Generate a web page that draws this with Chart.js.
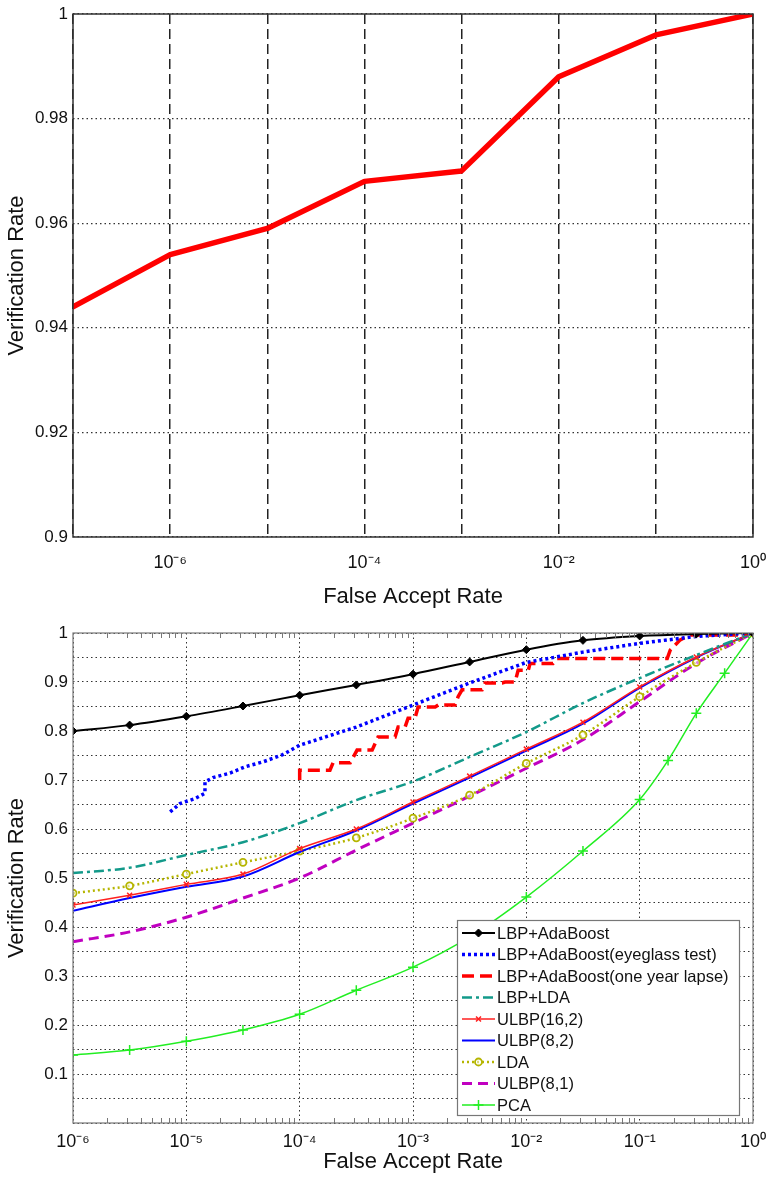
<!DOCTYPE html>
<html>
<head>
<meta charset="utf-8">
<script src="https://cdn.jsdelivr.net/npm/chart.js@4.4.1/dist/chart.umd.min.js"></script>
<style>
html, body { margin: 0; padding: 0; background: #fff; }
#top-wrap { position: absolute; left: 0; top: 0; width: 767px; height: 610px; }
#bottom-wrap { position: absolute; left: 0; top: 610px; width: 767px; height: 567px; }
</style>
</head>
<body>
<div id="top-wrap"><canvas id="roc-top"></canvas></div>
<div id="bottom-wrap"><canvas id="roc-bottom"></canvas></div>
<script>
// ---- top chart data ----
const topFar = [1e-7, 1e-6, 1e-5, 1e-4, 1e-3, 1e-2, 1e-1, 1];
const topVr = [0.944, 0.954, 0.959, 0.968, 0.970, 0.988, 0.996, 1.0];
const topXTicks = [1e-7, 1e-6, 1e-5, 1e-4, 1e-3, 1e-2, 1e-1, 1];
const topXLabels = ['', '10⁻⁶', '', '10⁻⁴', '', '10⁻²', '', '10⁰'];
const topYTicks = [0.9, 0.92, 0.94, 0.96, 0.98, 1];
const topYLabels = ['0.9', '0.92', '0.94', '0.96', '0.98', '1'];

// ---- bottom chart data ----
const far = [1e-6, 3.16e-6, 1e-5, 3.16e-5, 1e-4, 3.16e-4, 1e-3, 3.16e-3, 1e-2, 3.16e-2, 1e-1, 3.16e-1, 1];
const lbpAdaboost = [0.800, 0.812, 0.830, 0.851, 0.873, 0.894, 0.916, 0.941, 0.966, 0.985, 0.994, 0.998, 1.0];
const lbpLda = [0.510, 0.521, 0.547, 0.573, 0.612, 0.659, 0.697, 0.747, 0.798, 0.857, 0.908, 0.955, 1.0];
const ulbp162 = [0.445, 0.465, 0.487, 0.508, 0.560, 0.600, 0.655, 0.708, 0.763, 0.818, 0.890, 0.951, 1.0];
const ulbp82 = [0.433, 0.459, 0.482, 0.503, 0.553, 0.597, 0.652, 0.705, 0.760, 0.815, 0.888, 0.950, 1.0];
const lda = [0.469, 0.484, 0.508, 0.532, 0.555, 0.582, 0.622, 0.669, 0.734, 0.792, 0.870, 0.940, 1.0];
const ulbp81 = [0.370, 0.390, 0.420, 0.459, 0.500, 0.557, 0.612, 0.667, 0.724, 0.782, 0.860, 0.938, 1.0];

const eyeFar = [7.2e-6, 8.8e-6, 1.19e-5, 1.46e-5, 1.46e-5, 1.72e-5, 2.43e-5, 3.3e-5, 4.75e-5, 7.0e-5, 1e-4, 3.16e-4, 1e-3, 3.16e-3, 1e-2, 3.16e-2, 1e-1, 3.16e-1, 1];
const eyeglass = [0.635, 0.652, 0.662, 0.673, 0.696, 0.705, 0.714, 0.727, 0.737, 0.751, 0.771, 0.808, 0.853, 0.898, 0.940, 0.961, 0.979, 0.993, 1.0];

const lapseFar = [1e-4, 1e-4, 1.85e-4, 1.97e-4, 2.79e-4, 3.21e-4, 4.36e-4, 4.92e-4, 6.95e-4, 7.39e-4, 8.51e-4, 9.05e-4, 1.04e-3, 1.11e-3, 1.57e-3, 1.67e-3, 2.35e-3, 2.5e-3, 2.71e-3, 4.07e-3, 4.33e-3, 6.11e-3, 6.5e-3, 7.96e-3, 8.47e-3, 1.04e-2, 1.08e-2, 1.72e-2, 1.87e-2, 0.175, 0.186, 0.228, 0.279, 0.725, 1];
const yearLapse = [0.700, 0.720, 0.720, 0.735, 0.735, 0.761, 0.761, 0.788, 0.788, 0.808, 0.808, 0.826, 0.826, 0.849, 0.849, 0.853, 0.853, 0.870, 0.884, 0.884, 0.898, 0.898, 0.900, 0.900, 0.924, 0.924, 0.938, 0.938, 0.948, 0.948, 0.965, 0.986, 0.996, 0.996, 1.0];

const pcaFar = [1e-6, 3.16e-6, 1e-5, 3.16e-5, 1e-4, 3.16e-4, 1e-3, 3.16e-3, 1e-2, 3.16e-2, 1e-1, 0.178, 3.16e-1, 0.562, 1];
const pca = [0.139, 0.149, 0.167, 0.190, 0.222, 0.271, 0.318, 0.380, 0.461, 0.555, 0.660, 0.740, 0.836, 0.918, 1.0];

const botXTicks = [1e-6, 1e-5, 1e-4, 1e-3, 1e-2, 1e-1, 1];
const botXLabels = ['10⁻⁶', '10⁻⁵', '10⁻⁴', '10⁻³', '10⁻²', '10⁻¹', '10⁰'];
const botYTicks = [0, 0.05, 0.1, 0.15, 0.2, 0.25, 0.3, 0.35, 0.4, 0.45, 0.5, 0.55, 0.6, 0.65, 0.7, 0.75, 0.8, 0.85, 0.9, 0.95, 1];
const botYLabels = ['', '', '0.1', '', '0.2', '', '0.3', '', '0.4', '', '0.5', '', '0.6', '', '0.7', '', '0.8', '', '0.9', '', '1'];

Chart.defaults.font.family = "'Liberation Sans', Arial, sans-serif";
Chart.defaults.color = '#111';

function pts(xs, ys) {
    return xs.map((x, i) => ({ x: x, y: ys[i] }));
}

// keep the plot box where it is, whatever the label widths
function fixX(h) {
    return s => { s.height = h; s.paddingLeft = 0; s.paddingRight = 0; };
}
function fixY(w) {
    return s => { s.width = w; s.paddingTop = 0; s.paddingBottom = 0; };
}

// box around the plot + log minor ticks
const framePlugin = {
    id: 'frame',
    afterDatasetsDraw(chart, args, opts) {
        const ctx = chart.ctx;
        const a = chart.chartArea;
        ctx.save();
        if (opts.minor) {
            const xs = chart.scales.x;
            ctx.strokeStyle = opts.color;
            ctx.lineWidth = 1;
            ctx.beginPath();
            for (let e = -6; e < 0; e++) {
                for (let k = 2; k < 10; k++) {
                    const px = Math.round(xs.getPixelForValue(k * Math.pow(10, e))) + 0.5;
                    ctx.moveTo(px, a.bottom);
                    ctx.lineTo(px, a.bottom - 5);
                    ctx.moveTo(px, a.top);
                    ctx.lineTo(px, a.top + 5);
                }
            }
            ctx.stroke();
        }
        ctx.strokeStyle = opts.color;
        ctx.lineWidth = opts.width;
        ctx.strokeRect(a.left, a.top, a.right - a.left, a.bottom - a.top);
        ctx.restore();
    }
};

// matlab style legend box inside the plot
const boxLegend = {
    id: 'boxLegend',
    afterDraw(chart, args, opts) {
        if (!opts.show) return;
        const ctx = chart.ctx;
        const a = chart.chartArea;
        const left = a.right - 296, top = a.bottom - 203, w = 282, h = 195;
        ctx.save();
        ctx.fillStyle = '#fff';
        ctx.fillRect(left, top, w, h);
        ctx.strokeStyle = '#777';
        ctx.lineWidth = 1.2;
        ctx.strokeRect(left + 0.5, top + 0.5, w, h);
        ctx.font = "16.5px 'Liberation Sans', Arial, sans-serif";
        ctx.textBaseline = 'middle';
        chart.data.datasets.forEach((ds, i) => {
            const y = top + 13 + i * 21.5;
            ctx.strokeStyle = ds.borderColor;
            ctx.lineWidth = ds.borderWidth;
            ctx.setLineDash(ds.borderDash || []);
            ctx.beginPath();
            ctx.moveTo(left + 5, y);
            ctx.lineTo(left + 38, y);
            ctx.stroke();
            ctx.setLineDash([]);
            if (ds.pointRadius > 0) {
                ctx.fillStyle = ds.pointBackgroundColor || ds.borderColor;
                ctx.strokeStyle = ds.borderColor;
                ctx.lineWidth = ds.pointBorderWidth || 1;
                Chart.helpers.drawPoint(ctx, {
                    pointStyle: ds.pointStyle, radius: ds.pointRadius, rotation: 0,
                    borderWidth: ds.pointBorderWidth || 1
                }, left + 21.5, y);
            }
            ctx.fillStyle = '#111';
            ctx.fillText(ds.label, left + 40, y + 1);
        });
        ctx.restore();
    }
};

// ---- top chart ----
new Chart(document.getElementById('roc-top').getContext('2d'), {
    type: 'line',
    data: {
        datasets: [{
            label: 'Verification',
            data: pts(topFar, topVr),
            borderColor: '#ff0000',
            borderWidth: 5.5,
            pointRadius: 0,
            tension: 0,
            borderCapStyle: 'round',
            borderJoinStyle: 'round'
        }]
    },
    options: {
        responsive: true,
        maintainAspectRatio: false,
        animation: false,
        layout: { padding: { left: 4, top: 14, right: 14, bottom: 0 } },
        plugins: {
            legend: { display: false },
            tooltip: { enabled: false },
            frame: { color: '#333', width: 1.5 }
        },
        scales: {
            x: {
                type: 'logarithmic',
                min: 1e-7,
                max: 1,
                afterBuildTicks: s => { s.ticks = topXTicks.map(v => ({ value: v })); },
                afterFit: fixX(73),
                ticks: {
                    autoSkip: false, maxRotation: 0, padding: 15,
                    font: { size: 18 },
                    callback: (v, i) => topXLabels[i]
                },
                grid: { color: '#222', lineWidth: 1.5, drawTicks: false },
                border: { display: false, dash: [10, 5] },
                title: { display: true, text: 'False Accept Rate', font: { size: 22 }, padding: 0 }
            },
            y: {
                type: 'linear',
                min: 0.9,
                max: 1,
                afterBuildTicks: s => { s.ticks = topYTicks.map(v => ({ value: v })); },
                afterFit: fixY(69),
                ticks: {
                    padding: 5,
                    font: { size: 17 },
                    callback: (v, i) => topYLabels[i]
                },
                grid: { color: '#333', lineWidth: 1.2, drawTicks: false },
                border: { display: false, dash: [1.5, 3] },
                title: { display: true, text: 'Verification Rate', font: { size: 22 }, padding: 0 }
            }
        }
    },
    plugins: [framePlugin]
});

// ---- bottom chart ----
new Chart(document.getElementById('roc-bottom').getContext('2d'), {
    type: 'line',
    data: {
        datasets: [
            {
                label: 'LBP+AdaBoost', data: pts(far, lbpAdaboost),
                borderColor: '#000', borderWidth: 2,
                pointStyle: 'rectRot', pointRadius: 4, pointBackgroundColor: '#000', pointBorderWidth: 1,
                cubicInterpolationMode: 'monotone'
            },
            {
                label: 'LBP+AdaBoost(eyeglass test)', data: pts(eyeFar, eyeglass),
                borderColor: '#0000ff', borderWidth: 3.5, borderDash: [3, 3],
                pointRadius: 0, tension: 0
            },
            {
                label: 'LBP+AdaBoost(one year lapse)', data: pts(lapseFar, yearLapse),
                borderColor: '#ff0000', borderWidth: 3.5, borderDash: [12, 6],
                pointRadius: 0, tension: 0
            },
            {
                label: 'LBP+LDA', data: pts(far, lbpLda),
                borderColor: '#139a8a', borderWidth: 2.5, borderDash: [10, 4, 3, 4],
                pointRadius: 0, cubicInterpolationMode: 'monotone'
            },
            {
                label: 'ULBP(16,2)', data: pts(far, ulbp162),
                borderColor: '#ff2020', borderWidth: 1.5,
                pointStyle: 'crossRot', pointRadius: 3.5, pointBorderWidth: 1.5,
                cubicInterpolationMode: 'monotone'
            },
            {
                label: 'ULBP(8,2)', data: pts(far, ulbp82),
                borderColor: '#0000ff', borderWidth: 2,
                pointRadius: 0, cubicInterpolationMode: 'monotone'
            },
            {
                label: 'LDA', data: pts(far, lda),
                borderColor: '#b5b500', borderWidth: 2.5, borderDash: [2, 3],
                pointStyle: 'circle', pointRadius: 3.5, pointBackgroundColor: 'rgba(255,255,255,0.5)', pointBorderWidth: 1.8,
                cubicInterpolationMode: 'monotone'
            },
            {
                label: 'ULBP(8,1)', data: pts(far, ulbp81),
                borderColor: '#c000c0', borderWidth: 3, borderDash: [10, 6],
                pointRadius: 0, cubicInterpolationMode: 'monotone'
            },
            {
                label: 'PCA', data: pts(pcaFar, pca),
                borderColor: '#22ee22', borderWidth: 1.5,
                pointStyle: 'cross', pointRadius: 5, pointBorderWidth: 1.5,
                cubicInterpolationMode: 'monotone'
            }
        ]
    },
    options: {
        responsive: true,
        maintainAspectRatio: false,
        animation: false,
        layout: { padding: { left: 4, top: 23, right: 14, bottom: 2 } },
        plugins: {
            legend: { display: false },
            tooltip: { enabled: false },
            frame: { color: '#777', width: 1.2, minor: true },
            boxLegend: { show: true }
        },
        scales: {
            x: {
                type: 'logarithmic',
                min: 1e-6,
                max: 1,
                afterBuildTicks: s => { s.ticks = botXTicks.map(v => ({ value: v })); },
                afterFit: fixX(52),
                ticks: {
                    autoSkip: false, maxRotation: 0, padding: 8,
                    font: { size: 18 },
                    callback: (v, i) => botXLabels[i]
                },
                grid: { color: '#333', lineWidth: 1, drawTicks: false },
                border: { display: false, dash: [1.5, 3] },
                title: { display: true, text: 'False Accept Rate', font: { size: 22 }, padding: 0 }
            },
            y: {
                type: 'linear',
                min: 0,
                max: 1,
                afterBuildTicks: s => { s.ticks = botYTicks.map(v => ({ value: v })); },
                afterFit: fixY(69),
                ticks: {
                    padding: 5,
                    font: { size: 17 },
                    callback: (v, i) => botYLabels[i]
                },
                grid: { color: '#333', lineWidth: 1, drawTicks: false },
                border: { display: false, dash: [1.5, 3] },
                title: { display: true, text: 'Verification Rate', font: { size: 22 }, padding: 0 }
            }
        }
    },
    plugins: [framePlugin, boxLegend]
});
</script>
</body>
</html>
